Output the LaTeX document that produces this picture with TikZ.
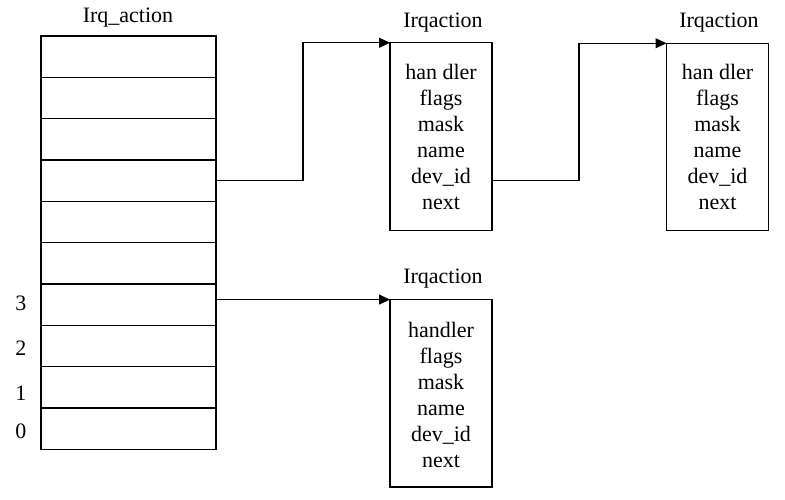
\documentclass[tikz,border=0pt]{standalone}
\usepackage{fontspec}
\setmainfont{Liberation Serif}
\usetikzlibrary{arrows.meta}
\begin{document}
\begin{tikzpicture}[x=1pt,y=-1pt,
  line width=1.3pt,
  cell/.style={draw, minimum width=175pt, minimum height=41.33pt, inner sep=0pt, outer sep=0pt},
  rec/.style={draw, minimum width=102pt, minimum height=187.5pt, inner sep=0pt, outer sep=0pt},
  fields/.style={font=\fontsize{22}{26}\selectfont, align=center, inner sep=0pt, anchor=north},
  ttl/.style={font=\fontsize{22}{26}\selectfont, inner sep=0pt, anchor=base},
  idx/.style={font=\fontsize{22}{26}\selectfont, inner sep=0pt},
  arr/.style={-{Triangle[length=11pt,width=10pt]}, line width=1.3pt}]
\useasboundingbox (0,0) rectangle (785,499);
% table of irq actions
\foreach \i in {0,...,9}
  \node[cell] (r\i) at (128.5, {449.3-41.33*(\i+0.5)}) {};
\node[ttl] (t0) at (128,22) {Irq\_action};
\node[idx] (n3) at (21,303) {3};
\node[idx] (n2) at (21,347.8) {2};
\node[idx] (n1) at (21,393) {1};
\node[idx] (n0) at (21,431.7) {0};
% irqaction boxes
\node[rec] (b1) at (441,136.5) {};
\node[rec] (b2) at (717.5,137) {};
\node[rec] (b3) at (441,393.3) {};
\node[ttl] (t1) at (443,27.3) {Irqaction};
\node[ttl] (t2) at (719,27.3) {Irqaction};
\node[ttl] (t3) at (443,283.3) {Irqaction};
\node[fields] (f1) at ([yshift=-20.5pt]b1.north) {han dler\\flags\\mask\\name\\dev\_id\\next};
\node[fields] (f2) at ([yshift=-20.5pt]b2.north) {han dler\\flags\\mask\\name\\dev\_id\\next};
\node[fields] (f3) at ([yshift=-22pt]b3.north) {handler\\flags\\mask\\name\\dev\_id\\next};
% connectors
\draw[arr] (r6.east) -- ++(87,0) |- (b1.north west);
\draw[arr] (b1.east |- r6.east) -- ++(87,0) |- (b2.north west);
\draw[arr] (r3.east |- b3.north west) -- (b3.north west);
\end{tikzpicture}
\end{document}
